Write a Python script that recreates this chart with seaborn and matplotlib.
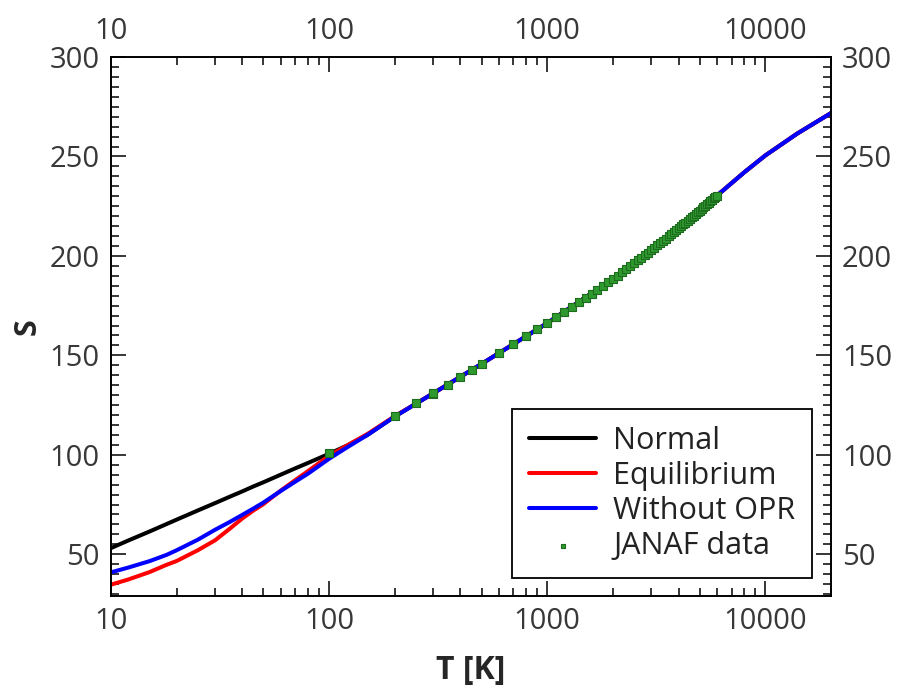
import numpy as np
import pandas as pd
import matplotlib
matplotlib.use("Agg")
import matplotlib.pyplot as plt
import seaborn as sns
from matplotlib.ticker import LogLocator, MultipleLocator, FixedLocator, NullFormatter

# ---- data ----
T_model = [10, 12, 15, 18, 20, 25, 30, 35, 40, 45, 50, 60, 70, 80, 100, 120, 150, 200,
           300, 500, 1000, 2000, 3000, 4000, 5000, 6000, 8000, 10000, 14000, 20000]
S_normal = [53.1, 56.9, 61.4, 65.2, 67.4, 72.0, 75.7, 78.9, 81.6, 84.1, 86.2, 90.0, 93.2, 95.9,
            100.5, 104.5, 110.0, 119.3,
            130.9, 145.7, 166.2, 188.4, 202.9, 213.8, 222.8, 230.3, 242.0, 250.5, 261.5, 271.8]
S_equil = [34.7, 37.3, 41.0, 44.7, 46.6, 52.0, 57.0, 62.8, 68.0, 72.0, 75.2, 82.0, 87.3, 91.8,
           99.5, 104.5, 110.5, 119.4,
           130.9, 145.7, 166.2, 188.4, 202.9, 213.8, 222.8, 230.3, 242.0, 250.5, 261.5, 271.8]
S_noopr = [40.9, 43.3, 46.5, 49.7, 52.0, 57.3, 62.3, 66.2, 69.8, 73.0, 76.0, 81.8, 86.5, 90.5,
           98.0, 103.5, 110.0, 119.2,
           130.9, 145.7, 166.2, 188.4, 202.9, 213.8, 222.8, 230.3, 242.0, 250.5, 261.5, 271.8]

T_janaf = [100, 200, 250, 298.15, 300, 350, 400, 450, 500] + list(range(600, 6001, 100))
S_janaf = [100.7, 119.4, 125.9, 130.7, 130.9, 135.3, 139.2, 142.6, 145.7,
           151.1, 155.6, 159.5, 163.1, 166.2, 169.1, 171.8, 174.3, 176.6, 178.8,
           180.9, 182.9, 184.8, 186.7, 188.4, 190.1, 191.7, 193.3, 194.8, 196.2,
           197.7, 199.0, 200.3, 201.6, 202.9, 204.1, 205.3, 206.5, 207.6, 208.7,
           209.8, 210.8, 211.9, 212.9, 213.8, 214.8, 215.8, 216.7, 217.6, 218.5,
           219.4, 220.3, 221.1, 221.9, 222.8, 223.6, 224.4, 225.2, 225.9, 226.7,
           227.4, 228.2, 228.9, 229.6, 230.3]

x_ticks = [10, 100, 1000, 10000]
y_ticks = [50, 100, 150, 200, 250, 300]

# ---- style ----
sns.set_style("ticks")
plt.rcParams['font.family'] = ['Open Sans', 'DejaVu Sans']

fig = plt.figure(figsize=(9.03, 6.98), dpi=100)
ax = fig.add_axes([111/903, 1-596/698, 720/903, 539/698])

sns.lineplot(x=T_model, y=S_normal, color='black', lw=2.9, ax=ax, label='Normal', sort=False)
sns.lineplot(x=T_model, y=S_equil, color='#ff0000', lw=2.9, ax=ax, label='Equilibrium', sort=False)
sns.lineplot(x=T_model, y=S_noopr, color='#0000ff', lw=2.9, ax=ax, label='Without OPR', sort=False)
sns.scatterplot(x=T_janaf, y=S_janaf, color='#2e9a2e', edgecolor='#1d6b1d', marker='s', s=26,
                linewidth=0.8, ax=ax, label='JANAF data', zorder=5)

ax.set_xscale('log')
ax.set_xlim(10, 20000)
ax.set_ylim(29, 300)

ax.xaxis.set_major_locator(FixedLocator(x_ticks))
ax.set_xticklabels([str(t) for t in x_ticks])
ax.xaxis.set_minor_locator(LogLocator(base=10, subs=np.arange(2, 10)))
ax.xaxis.set_minor_formatter(NullFormatter())
ax.yaxis.set_major_locator(FixedLocator(y_ticks))
ax.yaxis.set_minor_locator(MultipleLocator(5))

for sp in ax.spines.values():
    sp.set_visible(True)
    sp.set_color('black')
    sp.set_linewidth(1.4)

ax.tick_params(which='both', direction='in', top=True, right=True, labeltop=True, labelright=True,
               color='black', width=1.1)
ax.tick_params(which='major', length=11, labelsize=21, labelcolor='#383838')
ax.tick_params(which='minor', length=5.5)
ax.tick_params(axis='x', which='major', pad=8)
ax.tick_params(axis='y', which='major', pad=8)

ax.set_xlabel('T [K]', fontsize=23, fontweight='bold', labelpad=13)
ax.set_ylabel('S', fontsize=22, fontweight='bold', labelpad=5)

leg = ax.legend(loc='lower right', bbox_to_anchor=(0.9736, 0.0334), borderaxespad=0,
                fontsize=22, frameon=True, fancybox=False, edgecolor='black', framealpha=1,
                handlelength=2.2, handletextpad=0.55, labelspacing=0.17, borderpad=0.55,
                markerscale=0.7)
leg.get_frame().set_linewidth(1.3)
for t in leg.get_texts():
    t.set_color('#222222')

fig.savefig('out.png', dpi=100)
